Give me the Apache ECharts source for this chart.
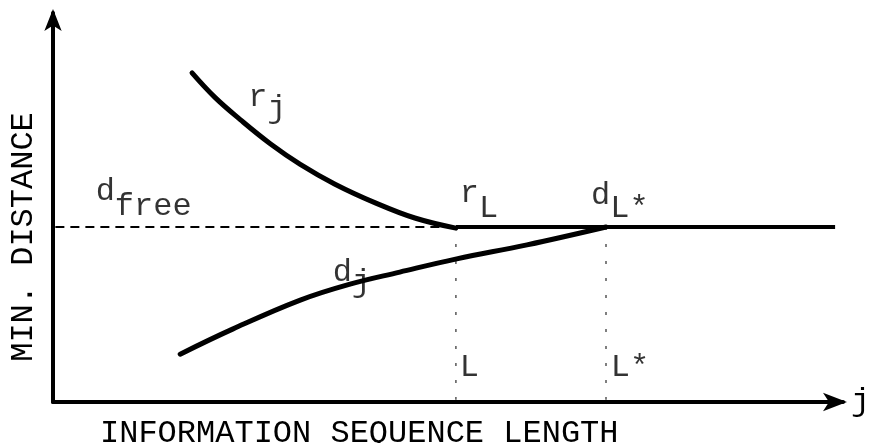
<!DOCTYPE html>
<html>
<head>
<meta charset="utf-8">
<script src="https://cdn.jsdelivr.net/npm/echarts@6/dist/echarts.min.js"></script>
<style>
html,body{margin:0;padding:0;background:#fff;}
#c{width:876px;height:443px;}
</style>
</head>
<body>
<div id="c"></div>
<script>
// ---- data (schematic) ----
const dFree = 45;          // d_free level
const Lpos = 51;           // L
const LstarPos = 70;       // L*
const xEnd = 99;           // right end of the horizontal lines
const rjX = [17.6, 20.5, 23.7, 27.5, 31.3, 35.7, 40.8, 45.8, 51.0];
const rjY = [84.6, 78.3, 72.6, 66.4, 61.1, 56.0, 51.2, 47.3, 44.7];
const djX = [16.1, 22.8, 31.3, 37.6, 43.9, 51.1, 60, 70];
const djY = [12.3, 18.8, 26.2, 30.3, 33.4, 36.8, 40.4, 45];
// annotation labels
const labelBase = ['d', 'r', 'r', 'd', 'd', 'L', 'L*'];
const labelSub  = ['free', 'j', 'L', 'L*', 'j', '', ''];
const labelX    = [5.4, 24.7, 51.5, 68.1, 35.4, 51.5, 70.6];
const labelY    = [58.1, 82.5, 57.8, 57.3, 37.5, 13.1, 13.1];
const labelShift = [15, 11, 15, 13, 10, 0, 0];
const xTitle = 'INFORMATION SEQUENCE LENGTH';
const yTitle = 'MIN. DISTANCE';
const xAxisEnd = 'j';

const FONT = '"Liberation Mono", "Courier New", monospace';
const INK = '#000';
const CHAR_W = 32 * 0.6;

const chart = echarts.init(document.getElementById('c'));

const labelData = [];
labelBase.forEach(function (b, i) {
  labelData.push({value: [labelX[i], labelY[i]], label: {formatter: b, offset: [0, 0]}});
  if (labelSub[i]) {
    labelData.push({value: [labelX[i], labelY[i]],
      label: {formatter: labelSub[i], offset: [CHAR_W * b.length, labelShift[i]]}});
  }
});

const option = {
  backgroundColor: '#fff',
  animation: false,
  grid: {left: 53, right: 33, top: 13, bottom: 41},
  xAxis: {
    type: 'value', min: 0, max: 100,
    axisLine: {show: true, symbol: ['none', 'arrow'], symbolSize: [14, 24], symbolOffset: [0, 4],
      lineStyle: {color: INK, width: 4}},
    axisTick: {show: false}, axisLabel: {show: false}, splitLine: {show: false},
    name: xAxisEnd, nameLocation: 'end', nameGap: 8,
    nameTextStyle: {fontFamily: FONT, fontSize: 32, color: INK, align: 'left', padding: [0, 0, 18, 0]}
  },
  yAxis: {
    type: 'value', min: 0, max: 100,
    axisLine: {show: true, symbol: ['none', 'arrow'], symbolSize: [13, 22], symbolOffset: [0, 4],
      lineStyle: {color: INK, width: 4}},
    axisTick: {show: false}, axisLabel: {show: false}, splitLine: {show: false}
  },
  graphic: [
    {type: 'text', left: 100, top: 418, style: {text: xTitle, font: '32px ' + FONT, fill: INK}},
    {type: 'text', x: 24, y: 237, rotation: Math.PI / 2,
      style: {text: yTitle, font: '32px ' + FONT, fill: INK, align: 'center', verticalAlign: 'middle'}}
  ],
  series: [
    {type: 'line', symbol: 'none', silent: true, data: [[0.3, dFree], [xEnd, dFree]],
      lineStyle: {color: INK, width: 2, type: [9, 6]}},
    {type: 'line', symbol: 'none', silent: true, data: [[Lpos, dFree], [Lpos, 0.6]],
      lineStyle: {color: '#555', width: 1.5, type: [3, 14]}},
    {type: 'line', symbol: 'none', silent: true, data: [[LstarPos, dFree], [LstarPos, 0.6]],
      lineStyle: {color: '#555', width: 1.5, type: [3, 14]}},
    {type: 'line', symbol: 'none', silent: true, data: [[Lpos, dFree], [xEnd, dFree]],
      lineStyle: {color: INK, width: 4}},
    {type: 'line', symbol: 'none', smooth: 0.4, silent: true,
      data: rjX.map(function (x, i) { return [x, rjY[i]]; }),
      lineStyle: {color: INK, width: 5, cap: 'round'}},
    {type: 'line', symbol: 'none', smooth: 0.4, silent: true,
      data: djX.map(function (x, i) { return [x, djY[i]]; }),
      lineStyle: {color: INK, width: 5, cap: 'round'}},
    {type: 'scatter', symbolSize: 0, silent: true, data: labelData,
      label: {show: true, position: [0, 0], align: 'left', verticalAlign: 'top',
        fontFamily: FONT, fontSize: 32, color: INK}}
  ]
};
chart.setOption(option);
</script>
</body>
</html>
